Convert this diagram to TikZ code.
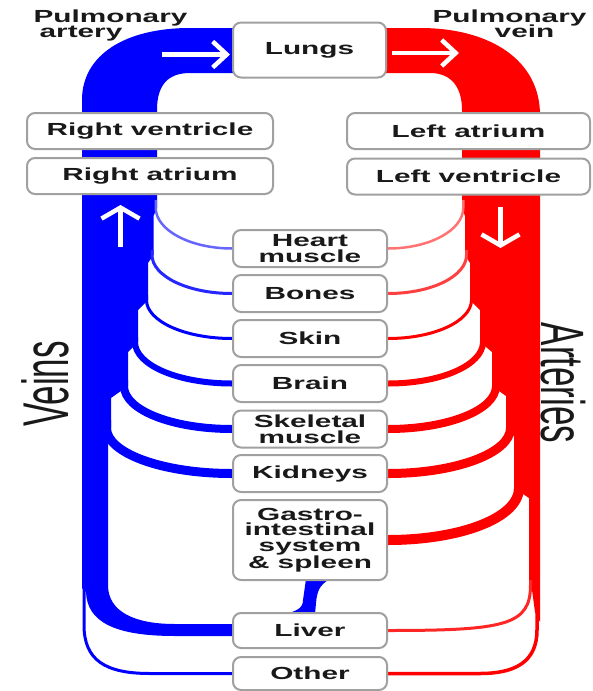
\documentclass[tikz,border=0pt]{standalone}
\usepackage{fontspec}
\usepackage{graphicx}
\newfontfamily\lblfont[FakeStretch=1.7]{Liberation Sans}
\newfontfamily\bigfont{Liberation Sans}
\usetikzlibrary{arrows.meta,backgrounds}
\definecolor{vb}{RGB}{0,0,255}
\definecolor{ar}{RGB}{255,0,0}
\definecolor{boxline}{RGB}{160,160,160}
\begin{document}
\begin{tikzpicture}[x=1pt,y=-1pt,
  box/.style={draw=boxline, line width=2pt, rounded corners=8pt, fill=white, inner sep=0pt, align=center,
    font=\lblfont\bfseries\fontsize{17.5pt}{15.5pt}\selectfont, text=black!90},
  organ/.style={box, minimum width=154pt, minimum height=37pt},
  chamber/.style={box, minimum width=246pt, minimum height=36pt},
  lab/.style={inner sep=0pt, font=\lblfont\bfseries\fontsize{17.5pt}{15.5pt}\selectfont, text=black!90},
  biglab/.style={inner sep=0pt, font=\bigfont\fontsize{35pt}{35pt}\selectfont, text=black!90},
  vbr/.style={draw=vb, line cap=butt},
  abr/.style={draw=ar, line cap=butt},
  harrow/.style={draw=white, line width=4.5pt, -{Straight Barb[length=14pt,width=26pt]}},
  varrow/.style={draw=white, line width=4.5pt, -{Straight Barb[length=11pt,width=38pt]}}
]
\useasboundingbox (0,0) rectangle (592,691);

% boxes
\node[organ, minimum width=153pt, minimum height=55pt] (lungs) at (309.5,50) {Lungs};
\node[chamber] (rv) at (150,131) {Right ventricle};
\node[chamber] (ra) at (150,176) {Right atrium};
\node[chamber, minimum width=243pt] (la) at (468.5,131) {Left atrium};
\node[chamber, minimum width=243pt] (lv) at (468.5,176.5) {Left ventricle};
\node[organ] (heart) at (310,248.5) {Heart\\muscle};
\node[organ] (bones) at (310,293.5) {Bones};
\node[organ] (skin) at (310,338.5) {Skin};
\node[organ] (brain) at (310,383.5) {Brain};
\node[organ] (skel) at (310,429) {Skeletal\\muscle};
\node[organ] (kid) at (310,473.5) {Kidneys};
\node[organ, minimum height=80pt] (gi) at (310,540) {Gastro-\\intestinal\\system\\\& spleen};
\node[organ, minimum height=35pt] (liver) at (310,630.5) {Liver};
\node[organ, minimum height=33pt] (other) at (310,673.5) {Other};

% labels
\node[lab, anchor=base] (pa1) at (110.5,22.5) {Pulmonary};
\node[lab, anchor=base] (pa2) at (81,37.5) {artery};
\node[lab, anchor=base] (pv1) at (509.5,22.5) {Pulmonary};
\node[lab, anchor=base] (pv2) at (524.5,37.5) {vein};
\node[biglab, rotate=90] (veins) at (45,384) {\scalebox{1}[1.85]{Veins}};
\node[biglab, rotate=-90] (arteries) at (563,383) {\scalebox{1}[1.75]{Arteries}};

\begin{pgfonlayer}{background}
% ---- blue: pulmonary artery + veins trunk
\fill[vb] (82,588) -- (82,100) .. controls (82,55) and (125,28) .. (190,28) -- (240,28) -- (240,73) -- (190,73)
  .. controls (168,73) and (157,85) .. (157,110) -- (157,208) -- (153.5,216) -- (153.5,255) -- (148,263)
  -- (148,300) -- (138,310) -- (138,342) -- (128,352) -- (128,386) -- (111,398) -- (111,428) -- (108,436)
  -- (108,585) .. controls (108,612) and (135,624) .. (175,624) -- (liver.west |- 0,624) -- (liver.west |- 0,636)
  -- (175,636) .. controls (115,636) and (87,622) .. (86,592) -- cycle;
\draw[vbr, draw=vb!60, line width=2.5pt] (155.75,200) -- (155.75,208) .. controls +(0,22) and +(-42,0) .. (heart.west);
\draw[vbr, draw=vb!85, line width=3pt] (152,250) -- (152,255) .. controls +(0,21) and +(-44.5,0) .. (bones.west);
\draw[vbr, line width=3pt] (146.5,295) -- (146.5,300) .. controls +(0,21) and +(-47.6,0) .. (skin.west);
\draw[vbr, line width=6pt] (135,337) -- (135,342) .. controls +(0,23) and +(-54,0) .. (brain.west);
\draw[vbr, line width=8pt] (124,380) -- (124,386) .. controls +(0,24) and +(-60,0) .. (skel.west);
\draw[vbr, line width=9pt] (106.5,420) -- (106.5,428) .. controls +(0,25) and +(-70,0) .. (kid.west);
\draw[vbr, line width=3pt] (84,580) -- (84,625) .. controls (84,660) and (105,673.5) .. (150,673.5) -- (other.west);
% portal vein
\fill[vb] (306,579) -- (330,579) .. controls (319,585) and (317,592) .. (316,603) -- (315,614)
  -- (285,614) .. controls (297,611) and (303,608) .. (303,600) -- cycle;

% ---- red: pulmonary vein + arteries trunk
\fill[ar] (380,28) -- (420,28) .. controls (490,28) and (540,60) .. (540,115) -- (540,622) -- (535,612)
  -- (532,590) -- (529,585) -- (529,498) -- (514,488) -- (514,436) -- (506,428) -- (506,396) -- (492,386)
  -- (492,352) -- (480,342) -- (480,310) -- (470,300) -- (470,263) -- (465,255) -- (465,216) -- (462,208)
  -- (462,110) .. controls (462,88) and (452,73) .. (430,73) -- (380,73) -- cycle;
\draw[abr, draw=ar!55, line width=2.5pt] (463.25,200) -- (463.25,208) .. controls +(0,22) and +(42,0) .. (heart.east);
\draw[abr, draw=ar!75, line width=3pt] (466.5,250) -- (466.5,255) .. controls +(0,21) and +(44,0) .. (bones.east);
\draw[abr, line width=3pt] (471.5,295) -- (471.5,300) .. controls +(0,21) and +(46.5,0) .. (skin.east);
\draw[abr, line width=6pt] (483,337) -- (483,342) .. controls +(0,23) and +(53,0) .. (brain.east);
\draw[abr, line width=8pt] (496,380) -- (496,386) .. controls +(0,24) and +(60,0) .. (skel.east);
\draw[abr, line width=9pt] (510.5,420) -- (510.5,428) .. controls +(0,25) and +(68,0) .. (kid.east);
\draw[abr, line width=10pt] (519,480) -- (519,488) .. controls +(0,30) and +(72,0) .. (gi.east);
\draw[abr, draw=ar!85, line width=3pt] (530.5,580) -- (530.5,585) .. controls +(0,40) and +(118,0) .. (liver.east);
\draw[abr, line width=3.5pt] (537,590) -- (537,630) .. controls (537,662) and (515,673.5) .. (480,673.5) -- (other.east);

% white flow arrows
\draw[harrow] (162,54.5) -- (230,54.5);
\draw[harrow] (392,53) -- (459,53);
\draw[varrow] (120.5,247) -- (120.5,205);
\draw[varrow] (500.5,207) -- (500.5,248);
\end{pgfonlayer}
\end{tikzpicture}
\end{document}
